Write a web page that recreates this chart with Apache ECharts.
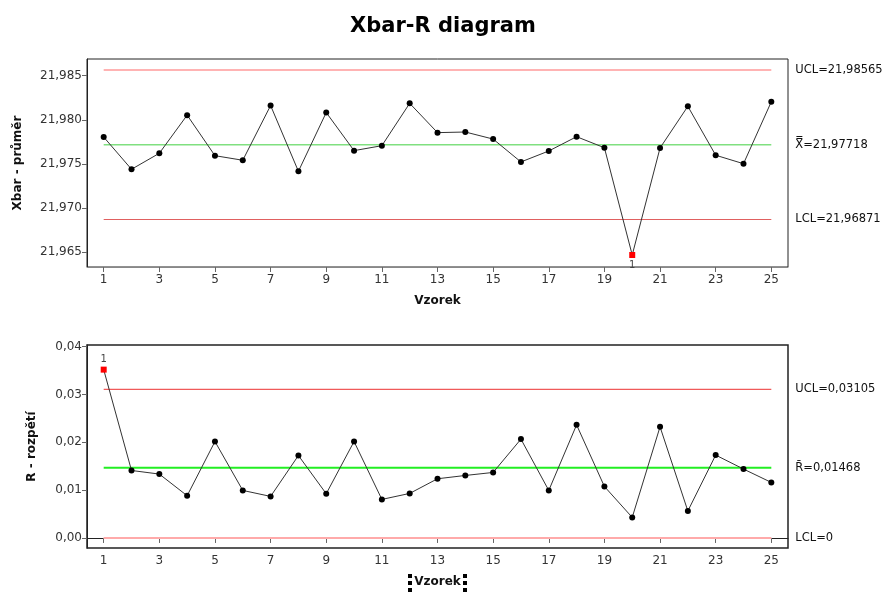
<!DOCTYPE html>
<html>
<head>
<meta charset="utf-8">
<script src="https://cdn.jsdelivr.net/npm/echarts@6/dist/echarts.min.js"></script>
<style>html,body{margin:0;padding:0;background:#fff}#c{width:886px;height:594px}</style>
</head>
<body>
<div id="c"></div>
<script>
// ---- data ----
const samples = [1,2,3,4,5,6,7,8,9,10,11,12,13,14,15,16,17,18,19,20,21,22,23,24,25];
const xbarValues = [21.97805,21.97440,21.97621,21.98053,21.97594,21.97542,21.98162,21.97417,21.98083,21.97651,21.97707,21.98187,21.97855,21.97862,21.97782,21.97523,21.97647,21.97809,21.97684,21.96469,21.97681,21.98153,21.97599,21.97503,21.98205];
const rangeValues = [0.0352,0.01411,0.01336,0.00883,0.02017,0.00994,0.00869,0.01724,0.00925,0.02017,0.00806,0.00931,0.01238,0.01307,0.01370,0.02067,0.00994,0.02365,0.01077,0.00430,0.02324,0.00564,0.01733,0.01441,0.01161];
const xbarLimits = {ucl: 21.98565, center: 21.97718, lcl: 21.96871};
const rLimits = {ucl: 0.03105, center: 0.01468, lcl: 0};
const xTickLabels = [1,3,5,7,9,11,13,15,17,19,21,23,25];
const xbarTicks = [21.965,21.970,21.975,21.980,21.985];
const rTicks = [0.00,0.01,0.02,0.03,0.04];

const FONT = 'DejaVu Sans';
const chart = echarts.init(document.getElementById('c'), null, {renderer:'canvas'});

function pointData(vals, lim, labelPos) {
  return vals.map((v, i) => {
    const out = v > lim.ucl || v < lim.lcl;
    if (!out) return [samples[i], v];
    return {
      value: [samples[i], v], symbol: 'rect', symbolSize: 6,
      itemStyle: {color: '#ff0000'},
      label: {show: true, position: labelPos, distance: 2, formatter: '1', fontFamily: FONT, fontSize: 10, color: '#444'}
    };
  });
}
function limitSeries(xi, yi, val, color, width, text) {
  return {
    type: 'line', xAxisIndex: xi, yAxisIndex: yi, silent: true, animation: false,
    symbol: 'none', data: [[samples[0], val], [samples[samples.length-1], val]],
    lineStyle: {color: color, width: width}, z: 1,
    endLabel: {show: true, formatter: text, distance: 24, color: '#111', fontFamily: FONT, fontSize: 11.5}
  };
}
const xAxisBase = (gi, lineColor) => ({
  type: 'value', gridIndex: gi, min: 0.4, max: 25.6,
  name: 'Vzorek', nameLocation: 'middle', nameGap: 28,
  nameTextStyle: {fontFamily: FONT, fontWeight: 'bold', fontSize: 12, color: '#111'},
  axisLine: {show: true, lineStyle: {color: lineColor, width: 1}},
  axisTick: {show: true, length: 5, lineStyle: {color: '#666'}, customValues: xTickLabels},
  axisLabel: {customValues: xTickLabels, fontFamily: FONT, fontSize: 12, color: '#333', margin: 7},
  splitLine: {show: false}
});
const yAxisBase = (gi, min, max, ticks, digits, name, gap) => ({
  type: 'value', gridIndex: gi, min: min, max: max,
  name: name, nameLocation: 'middle', nameGap: gap,
  nameTextStyle: {fontFamily: FONT, fontWeight: 'bold', fontSize: 12, color: '#111'},
  axisLine: {show: true, lineStyle: {color: '#222', width: 1}},
  axisTick: {show: true, length: 5, lineStyle: {color: '#666'}, customValues: ticks},
  axisLabel: {customValues: ticks, fontFamily: FONT, fontSize: 12, color: '#333', margin: 5,
    formatter: v => v.toFixed(digits).replace('.', ',')},
  splitLine: {show: false}
});

const option = {
  animation: false,
  backgroundColor: '#fff',
  title: {text: 'Xbar-R diagram', left: 'center', top: 11,
    textStyle: {fontFamily: FONT, fontWeight: 'bold', fontSize: 21, color: '#000'}},
  grid: [
    {left: 87, right: 98, top: 59, height: 208, show: true, borderColor: '#222', borderWidth: 1, containLabel: false, outerBoundsMode: 'none'},
    {left: 87, right: 98, top: 345, height: 203, show: true, borderColor: '#222', borderWidth: 1.5, containLabel: false, outerBoundsMode: 'none'}
  ],
  xAxis: [xAxisBase(0, '#888'), xAxisBase(1, '#222')],
  yAxis: [
    yAxisBase(0, 21.96333, 21.98689, xbarTicks, 3, 'Xbar - průměr', 63),
    yAxisBase(1, -0.0021, 0.04035, rTicks, 2, 'R - rozpětí', 49)
  ],
  series: [
    limitSeries(0, 0, xbarLimits.ucl, '#ff9a9a', 1.5, 'UCL=21,98565'),
    limitSeries(0, 0, xbarLimits.center, '#80e080', 1.5, 'X\u033F=21,97718'),
    limitSeries(0, 0, xbarLimits.lcl, '#e06060', 1.2, 'LCL=21,96871'),
    limitSeries(1, 1, rLimits.ucl, '#f05a5a', 1.2, 'UCL=0,03105'),
    limitSeries(1, 1, rLimits.center, '#22ee22', 2, 'R\u0304=0,01468'),
    limitSeries(1, 1, rLimits.lcl, '#ffaaaa', 2, 'LCL=0'),
    {type: 'line', xAxisIndex: 0, yAxisIndex: 0, data: pointData(xbarValues, xbarLimits, 'bottom'),
      symbol: 'circle', symbolSize: 6, itemStyle: {color: '#000'}, lineStyle: {color: '#333', width: 1}, z: 3},
    {type: 'line', xAxisIndex: 1, yAxisIndex: 1, data: pointData(rangeValues, rLimits, 'top'),
      symbol: 'circle', symbolSize: 6, itemStyle: {color: '#000'}, lineStyle: {color: '#333', width: 1}, z: 3}
  ],
  graphic: [
    {type: 'rect', shape: {x: 408, y: 574, width: 4, height: 4}, style: {fill: '#000'}},
    {type: 'rect', shape: {x: 408, y: 581, width: 4, height: 4}, style: {fill: '#000'}},
    {type: 'rect', shape: {x: 408, y: 588, width: 4, height: 4}, style: {fill: '#000'}},
    {type: 'rect', shape: {x: 463, y: 574, width: 4, height: 4}, style: {fill: '#000'}},
    {type: 'rect', shape: {x: 463, y: 581, width: 4, height: 4}, style: {fill: '#000'}},
    {type: 'rect', shape: {x: 463, y: 588, width: 4, height: 4}, style: {fill: '#000'}}
  ]
};
chart.setOption(option);
</script>
</body>
</html>
